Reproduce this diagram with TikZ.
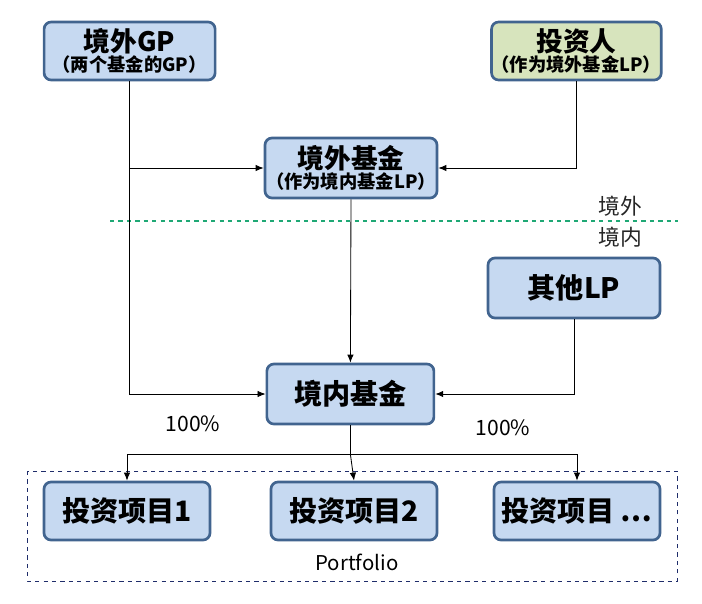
\documentclass[tikz,border=0pt]{standalone}
\usepackage{fontspec}
\setmainfont{Noto Sans CJK SC}
\usetikzlibrary{positioning,calc,arrows.meta}
\definecolor{boxfill}{HTML}{C6D9F1}
\definecolor{boxline}{HTML}{41648F}
\definecolor{lpfill}{HTML}{D7E4BD}
\definecolor{borderline}{HTML}{1FA875}
\definecolor{frameline}{HTML}{1F2D6A}
\tikzset{
fundbox/.style={draw=boxline,line width=1.9pt,fill=boxfill,rounded corners=5pt,align=center,inner sep=0pt,font=\bfseries},
lpbox/.style={fundbox,fill=lpfill},
mainfont/.style={font=\bfseries\fontsize{20}{22}\selectfont},
link/.style={black,line width=0.6pt},
linkarrow/.style={link,-{Latex[length=2mm,width=1.6mm]}},
sidelabel/.style={font=\fontsize{15.5}{17}\selectfont,text=black!85},
pctlabel/.style={font=\fontsize{15}{17}\selectfont}
}
\begin{document}
\begin{tikzpicture}
\useasboundingbox (0,0) rectangle (17.55,-15.1);
% offshore side
\node[fundbox,minimum width=4.275cm,minimum height=1.45cm] (gp) at (3.24,-1.275)
  {{\fontsize{19}{20}\selectfont 境外GP}\\[0pt]{\fontsize{13}{14}\selectfont （两个基金的GP）}};
\node[lpbox,minimum width=4.175cm,minimum height=1.45cm] (inv) at (14.41,-1.275)
  {{\fontsize{19}{20}\selectfont 投资人}\\[0pt]{\fontsize{13}{14}\selectfont （作为境外基金LP）}};
\node[fundbox,minimum width=4.3cm,minimum height=1.5cm] (off) at (8.775,-4.2)
  {{\fontsize{19}{20}\selectfont 境外基金}\\[0pt]{\fontsize{13}{14}\selectfont （作为境内基金LP）}};
% border between offshore and onshore
\draw[borderline,dashed,line width=0.8pt] (2.75,-5.525) -- (16.95,-5.525);
\node[sidelabel] (outside) at (15.5,-5.15) {境外};
\node[sidelabel] (inside) at (15.5,-5.92) {境内};
% onshore side
\node[fundbox,mainfont,minimum width=4.3cm,minimum height=1.5cm] (olp) at (14.35,-7.2) {其他LP};
\node[fundbox,mainfont,minimum width=4.175cm,minimum height=1.5cm] (dom) at (8.76,-9.85) {境内基金};
\node[pctlabel] (pctl) at (4.825,-10.6) {100\%};
\node[pctlabel] (pctr) at (12.575,-10.7) {100\%};
% portfolio
\draw[frameline,dashed,line width=0.5pt] (0.675,-11.775) rectangle (16.925,-14.525);
\node[fundbox,mainfont,minimum width=4.15cm,minimum height=1.45cm] (p1) at (3.175,-12.775) {投资项目1};
\node[fundbox,mainfont,minimum width=4.15cm,minimum height=1.45cm] (p2) at (8.85,-12.775) {投资项目2};
\node[fundbox,mainfont,minimum width=4.15cm,minimum height=1.45cm] (p3) at (14.425,-12.775) {投资项目 …};
\node[font=\fontsize{14.5}{16}\selectfont] (pf) at (8.925,-14.05) {Portfolio};
% connectors
\draw[linkarrow] (gp.south) |- (dom.west);
\draw[linkarrow] (gp.south |- off.west) -- (off.west);
\draw[linkarrow] (inv.south) |- (off.east);
\draw[linkarrow] (off.south) -- (dom.north);
\draw[linkarrow] (olp.south) |- (dom.east);
\coordinate (split) at ($(dom.south)+(0,-0.725)$);
\draw[link] (dom.south) -- (split);
\draw[link] (p1.north |- split) -- (p3.north |- split);
\draw[linkarrow] (p1.north |- split) -- (p1.north);
\draw[linkarrow] (split) -- (p2.north);
\draw[linkarrow] (p3.north |- split) -- (p3.north);
\end{tikzpicture}
\end{document}
